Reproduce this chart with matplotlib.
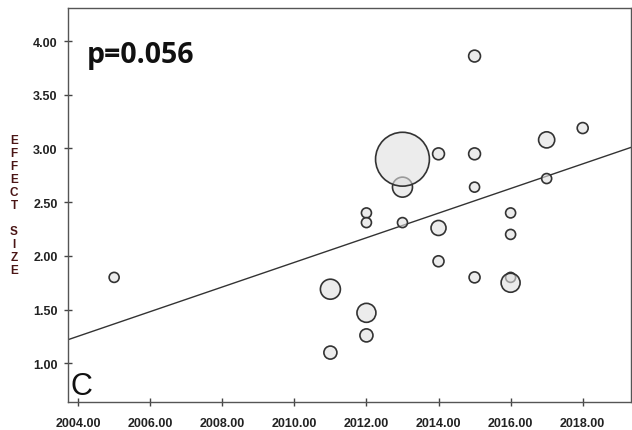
import numpy as np
import matplotlib
matplotlib.use("Agg")
import matplotlib.pyplot as plt

# meta-regression: effect size vs publication year
years = [2005, 2011, 2011, 2012, 2012, 2012, 2012, 2013, 2013, 2013, 2014, 2014,
         2014, 2015, 2015, 2015, 2015, 2016, 2016, 2016, 2016, 2017, 2017, 2018]
effect = [1.80, 1.69, 1.10, 2.40, 2.31, 1.47, 1.26, 2.90, 2.64, 2.31, 2.95, 2.26,
          1.95, 3.86, 2.95, 2.64, 1.80, 2.40, 2.20, 1.80, 1.75, 3.08, 2.72, 3.19]
weights = [1.0, 4.0, 1.7, 1.0, 1.0, 3.6, 1.7, 29.0, 4.0, 1.0, 1.4, 2.25,
           1.2, 1.4, 1.4, 1.0, 1.2, 1.0, 1.0, 1.0, 3.6, 2.6, 1.0, 1.2]
intercept_2004 = 1.252
slope = 0.1146

xticks = [2004, 2006, 2008, 2010, 2012, 2014, 2016, 2018]
yticks = [1.0, 1.5, 2.0, 2.5, 3.0, 3.5, 4.0]

fig = plt.figure(figsize=(6.32, 4.31), dpi=100)
ax = fig.add_axes([0.1076, 0.0657, 0.8908, 0.9133])

xlo, xhi = 2003.72, 2019.34
ax.set_xlim(xlo, xhi)
ax.set_ylim(0.643, 4.307)

# regression line
xl = np.array([xlo, xhi])
ax.plot(xl, intercept_2004 + slope * (xl - 2004), color="#333333", lw=1.0, zorder=2)

# bubbles, bigger drawn on top
w = np.array(weights)
r_px = 5.0 * np.sqrt(w)
sizes = (2 * r_px * 0.72) ** 2
order = np.argsort(w, kind="stable")
ax.scatter(np.array(years)[order], np.array(effect)[order], s=sizes[order],
           facecolor=(0.88, 0.88, 0.88, 0.6), edgecolor="#333333",
           linewidth=1.2, zorder=3)

ax.set_xticks(xticks)
ax.set_xticklabels([f"{x:.2f}" for x in xticks])
ax.set_yticks(yticks)
ax.set_yticklabels([f"{y:.2f}" for y in yticks])
ax.tick_params(direction="inout", length=6, width=1, color="#444444",
               labelsize=9, labelcolor="#222222")
ax.tick_params(axis="x", pad=8)
ax.tick_params(axis="y", pad=4.5)
for lab in ax.get_xticklabels() + ax.get_yticklabels():
    lab.set_fontfamily("Liberation Sans")
    lab.set_fontweight("bold")
for sp in ax.spines.values():
    sp.set_color("#555555")
    sp.set_linewidth(1.0)

ax.text(0.034, 0.862, "p=0.056", transform=ax.transAxes, fontsize=20.5,
        fontweight="bold", family="Open Sans", color="#111111", va="baseline")
ax.text(0.004, 0.02, "C", transform=ax.transAxes, fontsize=22,
        family="Liberation Sans", color="#111111", va="baseline")

# stacked y label
fig.text(14 / 632, 1 - 206 / 431, "E\nF\nF\nE\nC\nT\n\nS\nI\nZ\nE", ha="center",
         va="center", fontsize=8.5, fontweight="bold", family="Liberation Sans",
         color="#4a1515", linespacing=1.1)

fig.savefig("out.png", dpi=100)
